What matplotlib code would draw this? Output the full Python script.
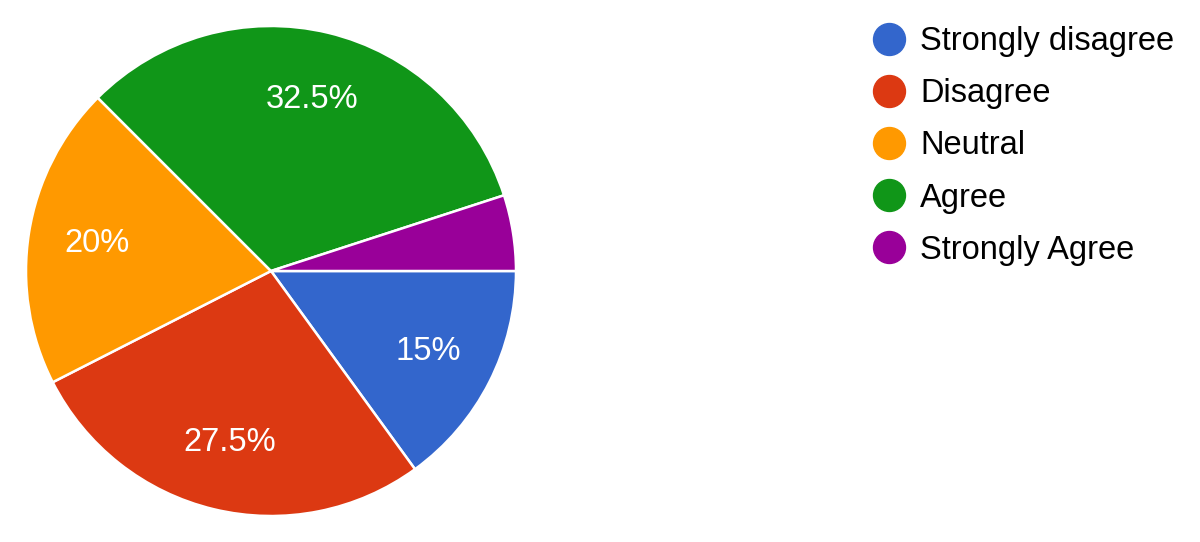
import matplotlib
matplotlib.use("Agg")
import matplotlib.pyplot as plt
from matplotlib.lines import Line2D
import numpy as np

categories = ["Strongly disagree", "Disagree", "Neutral", "Agree", "Strongly Agree"]
values = [15, 27.5, 20, 32.5, 5]
pct_labels = ["15%", "27.5%", "20%", "32.5%", ""]
colors = ["#3366cc", "#dc3912", "#ff9900", "#109618", "#990099"]

plt.rcParams['font.family'] = ['Liberation Sans', 'DejaVu Sans']

fig = plt.figure(figsize=(12, 5.42), dpi=100)
cx, cy, r = 271, 271, 245
W, H = 1200, 542
ax = fig.add_axes([(cx - r) / W, (H - cy - r) / H, 2 * r / W, 2 * r / H])

wedges, _ = ax.pie(values, colors=colors, startangle=0, counterclock=False,
                   wedgeprops=dict(edgecolor="white", linewidth=1.8))
total = sum(values)
start = 0.0
for v, lab in zip(values, pct_labels):
    mid = start - v / total * 360 / 2
    start -= v / total * 360
    if lab:
        a = np.deg2rad(mid)
        ax.text(0.72 * np.cos(a), 0.72 * np.sin(a), lab, ha="center", va="center",
                color="white", fontsize=23.5)
ax.set_xlim(-1, 1)
ax.set_ylim(-1, 1)
ax.set_aspect("equal")
ax.axis("off")

handles = [Line2D([0], [0], marker="o", linestyle="none", markersize=23,
                  markerfacecolor=c, markeredgecolor=c) for c in colors]
fig.legend(handles, categories, loc="upper left", bbox_to_anchor=(872.7 / W, 1 - 26 / H),
           frameon=False, fontsize=23.5, labelspacing=0.65, handletextpad=0.45,
           handlelength=1.0, borderaxespad=0, borderpad=0)

fig.savefig("out.png", dpi=100, facecolor="white")
